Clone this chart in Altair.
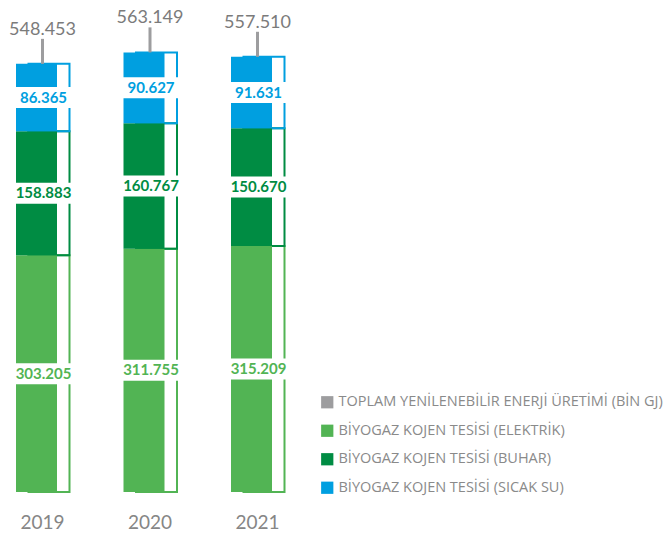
import altair as alt
import pandas as pd

years = ["2019", "2020", "2021"]
elektrik = [303205, 311755, 315209]
buhar = [158883, 160767, 150670]
sicak_su = [86365, 90627, 91631]
toplam = [548453, 563149, 557510]

seg_names = [
    "TOPLAM YENİLENEBİLİR ENERJİ ÜRETİMİ (BİN GJ)",
    "BİYOGAZ KOJEN TESİSİ (ELEKTRİK)",
    "BİYOGAZ KOJEN TESİSİ (BUHAR)",
    "BİYOGAZ KOJEN TESİSİ (SICAK SU)",
]
seg_colors = ["#9d9d9f", "#52b454", "#008c43", "#009fe0"]


def fmt(v):
    return f"{v:,}".replace(",", ".")


rows = []
for i, yr in enumerate(years):
    base = 0
    for name, vals in zip(seg_names[1:], [elektrik, buhar, sicak_su]):
        v = vals[i]
        rows.append({"year": yr, "seg": name, "part": name, "y0": base, "y1": base + v,
                     "mid": base + v / 2, "label": fmt(v)})
        base += v
seg_df = pd.DataFrame(rows)
tot_df = pd.DataFrame({"year": years, "total": toplam,
                       "label": [fmt(v) for v in toplam]})

FONT = "Lato"
color_scale = alt.Scale(domain=seg_names, range=seg_colors)
x_enc = alt.X("year:N", title=None,
              scale=alt.Scale(range=[-19.25, 303.25], paddingInner=0, paddingOuter=0),
              axis=alt.Axis(domain=False, ticks=False, labelAngle=0, labelFontSize=19,
                            labelColor="#868686", labelFont=FONT, labelPadding=21))
y_scale = alt.Scale(domain=[0, 609752])

base = alt.Chart(seg_df)

brackets = base.mark_bar(filled=False, width=41, xOffset=6.5, strokeWidth=2).encode(
    x=x_enc,
    y=alt.Y("y0:Q", scale=y_scale, axis=None),
    y2="y1:Q",
    stroke=alt.Stroke("part:N", scale=color_scale, legend=None),
)

bars = base.mark_bar(width=41, xOffset=-6).encode(
    x=x_enc,
    y=alt.Y("y0:Q", scale=y_scale, axis=None),
    y2="y1:Q",
    color=alt.Color("seg:N", scale=color_scale, title=None,
                    legend=alt.Legend(orient="none", legendX=312, legendY=379,
                                      symbolType="square", symbolSize=150,
                                      symbolStrokeWidth=0, labelFontSize=14.5,
                                      labelFont="Open Sans", labelColor="#8a8a8a",
                                      labelLimit=400, rowPadding=13.5, labelOffset=4,
                                      padding=0, title=None)),
)

boxes = base.mark_tick(color="white", size=58, thickness=21, opacity=1).encode(
    x=x_enc,
    y=alt.Y("mid:Q", scale=y_scale, axis=None),
)

vlabels = base.mark_text(font=FONT, fontSize=15, fontWeight="bold", baseline="middle",
                         xOffset=1).encode(
    x=x_enc,
    y=alt.Y("mid:Q", scale=y_scale, axis=None),
    text="label:N",
    fill=alt.Fill("part:N", scale=color_scale, legend=None),
)

tbase = alt.Chart(tot_df)
trule = tbase.mark_rule(color="#9d9d9f", strokeWidth=3, y2Offset=-25).encode(
    x=x_enc,
    y=alt.Y("total:Q", scale=y_scale, axis=None),
    y2="total:Q",
)
tlabels = tbase.mark_text(font=FONT, fontSize=18, color="#7b7b7b", baseline="middle",
                          dy=-34).encode(
    x=x_enc,
    y=alt.Y("total:Q", scale=y_scale, axis=None),
    text="label:N",
)

chart = alt.layer(brackets, bars, boxes, vlabels, trule, tlabels).resolve_legend(
    color="independent", fill="independent", stroke="independent"
).properties(
    width=656, height=476,
    autosize=alt.AutoSizeParams(type="none"),
    padding={"left": 0, "top": 8, "right": 0, "bottom": 40},
).configure_view(stroke=None)

chart.save("out.html", embed_options={"renderer": "svg", "actions": False})
